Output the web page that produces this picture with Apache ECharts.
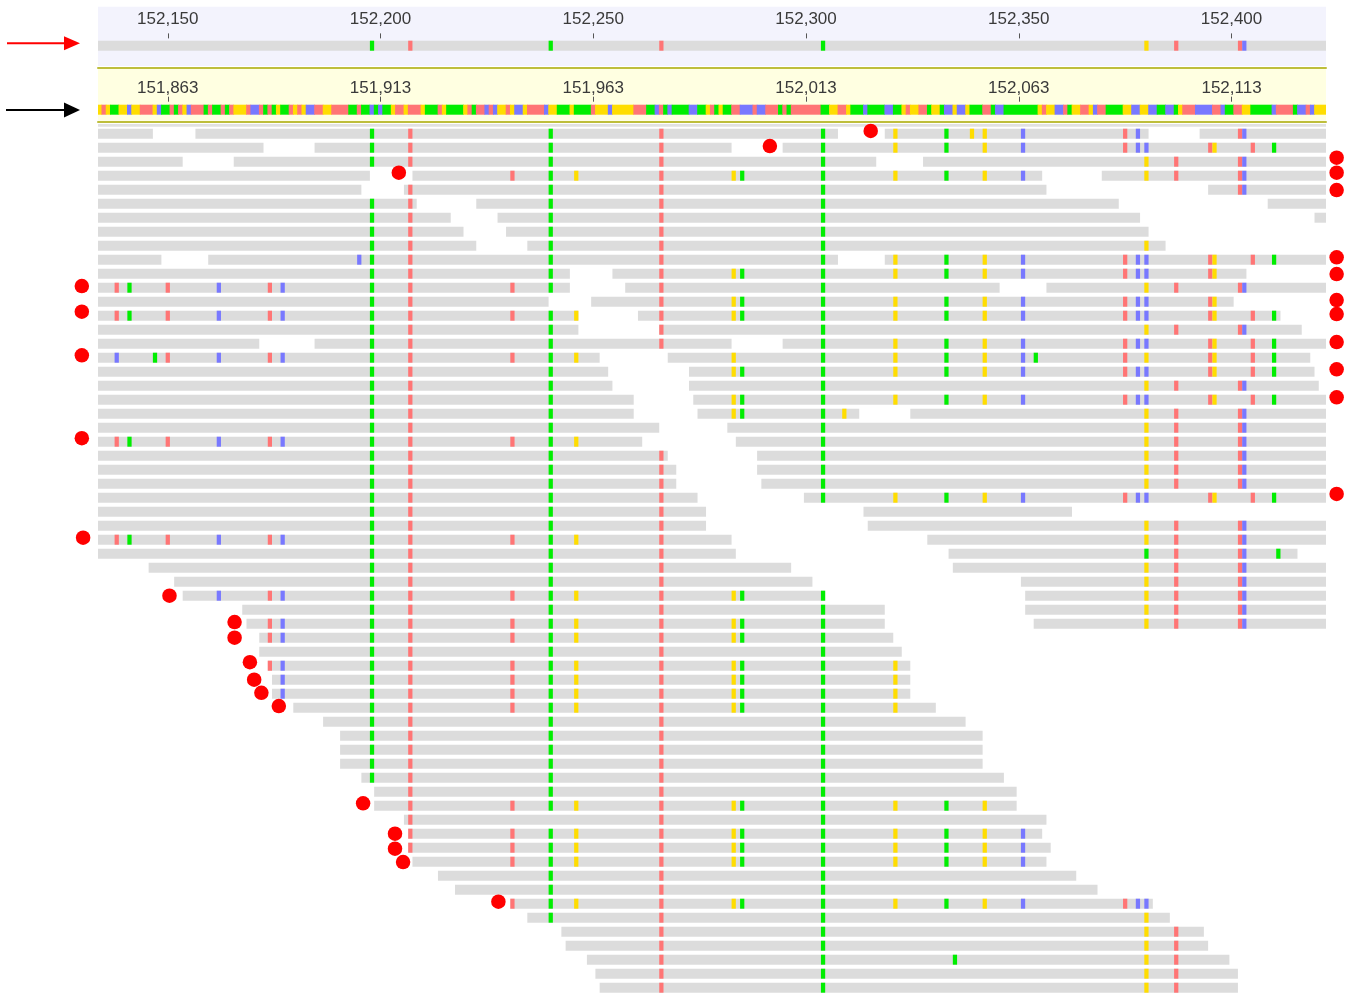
<!DOCTYPE html>
<html><head><meta charset="utf-8">
<script src="https://cdn.jsdelivr.net/npm/echarts@6/dist/echarts.min.js"></script>
<style>html,body{margin:0;padding:0;background:#fff}#c{width:1351px;height:998px}</style>
</head><body><div id="c"></div>
<script>
// ---------------- DATA ----------------
const tickValues = [152150, 152200, 152250, 152300, 152350, 152400];
const lowerAxisShift = 287; // lower ruler labels = upper value - 287

// variant sites: key -> position / base
const siteKeys = 'abcdefghijklmnopqrstuvwxyzABCDEFGHIJKLM';
const sitePos = [152138,152141,152147,152150,152162,152174,152177,152195,152198,152207,
  152231,152240,152246,152266,152283,152285,152304,152309,152321,152333,
  152335,152339,152342,152351,152354,152375,152378,152380,152380,152380,
  152387,152395,152396,152402,152403,152405,152410,152411,152138];
const siteBase = ['T','A','A','T','C','T','C','C','A','T',
  'T','A','G','T','G','A','A','G','G','A',
  'A','G','G','C','A','T','C','C','G','A',
  'T','T','G','T','C','T','A','A','C'];

// reference track (red arrow)
const refTrack = [152134, 152422];
const refVariants = 'ijlnqCEHI';

// colored sequence track (black arrow), one letter per base from 152134
const seqStart = 152134;
const seqBases =
  'GTGAAGGCGGTTTGCAATATGCTTTATAATATGGGTCCTATAGAATGTGCCTTGGTTTTAATAACACAAGTTGTTTGAAATGA' +
  'AAAGTATTCTCGGTGCCGTTTTCGGAAAGAAAATGGGCGGGGGTTTAACTACAAAACCAAGTAGAATTCCCTCCTTTATATTTTTTTAAGGTTGAAACAAAACCAA' +
  'GTGGTTAGGACCGCCGAAATTACCAAAAAAAAGTGGCCTAGGTTGCTTAAAAGGCCGGCCAACCAGTTTCCCCTTCAATTGGAAAAACTTTTACCTCGGG';

// reads: [row, firstBase, lastBase]
const reads = [
 [0,152134,152146],[0,152157,152307],[0,152319,152380],[0,152393,152422],
 [1,152134,152172],[1,152185,152282],[1,152295,152422],
 [2,152134,152153],[2,152166,152316],[2,152328,152422],
 [3,152134,152197],[3,152208,152355],[3,152370,152422],
 [4,152134,152195],[4,152206,152356],[4,152395,152422],
 [5,152134,152208],[5,152223,152373],[5,152409,152422],
 [6,152134,152216],[6,152228,152378],[6,152420,152422],
 [7,152134,152219],[7,152230,152380],
 [8,152134,152222],[8,152235,152384],
 [9,152134,152148],[9,152160,152307],[9,152319,152422],
 [10,152134,152244],[10,152255,152403],
 [11,152134,152244],[11,152258,152345],[11,152357,152422],
 [12,152134,152239],[12,152250,152400],
 [13,152134,152246],[13,152261,152411],
 [14,152134,152246],[14,152266,152416],
 [15,152134,152171],[15,152185,152282],[15,152295,152422],
 [16,152134,152251],[16,152268,152418],
 [17,152134,152253],[17,152273,152419],
 [18,152134,152254],[18,152273,152420],
 [19,152134,152259],[19,152274,152422],
 [20,152134,152259],[20,152275,152312],[20,152325,152422],
 [21,152134,152265],[21,152282,152422],
 [22,152134,152261],[22,152284,152422],
 [23,152134,152267],[23,152289,152422],
 [24,152134,152269],[24,152289,152422],
 [25,152134,152269],[25,152290,152422],
 [26,152134,152274],[26,152300,152422],
 [27,152134,152276],[27,152314,152362],
 [28,152134,152276],[28,152315,152422],
 [29,152134,152282],[29,152329,152422],
 [30,152134,152283],[30,152334,152415],
 [31,152146,152296],[31,152335,152422],
 [32,152152,152301],[32,152351,152422],
 [33,152154,152304],[33,152352,152422],
 [34,152168,152318],[34,152352,152422],
 [35,152169,152318],[35,152354,152422],
 [36,152172,152320],[37,152172,152322],[38,152174,152324],[39,152175,152324],
 [40,152175,152324],[41,152180,152330],[42,152187,152337],[43,152191,152341],
 [44,152191,152341],[45,152191,152341],[46,152196,152346],[47,152199,152349],
 [48,152199,152349],[49,152206,152356],[50,152207,152355],[51,152207,152357],
 [52,152208,152356],[53,152214,152363],[54,152218,152368],[55,152231,152381],
 [56,152235,152385],[57,152243,152393],[58,152244,152394],[59,152249,152399],
 [60,152251,152401],[61,152252,152401]
];

// variant keys shown on each read row
const rowVariants = [
 'ijlnqstvwxzAHI','ijlnqstwxzABFGJK','ijlnqCEHI','klmnopqstwxCEHI','jlnqHI',
 'ijlnq','ijlnq','ijlnq','ijlnqC','hijlnqstwxzABFGJK',
 'ijlnopqstwxzABFG','abdefgijklnqCEHI','ijnopqstwxzABFG','abdefgijklmnopqstwxzABFGJK','ijlnqCEHI',
 'ijlnqstwxzABFGJK','McdefgijklmoqstwxyzCFGJK','ijlopqstwxzABFGJK','ijlqCEHI','ijlopqstwxzABFGJK',
 'ijlopqrCEHI','ijlqCEHI','abdefgijklmqCEHI','ijlnqCEHI','ijlnqCEHI',
 'ijlnqCEHI','ijlnqstwxzABFGJK','ijln','ijlnCEHI','abdefgijklmnCEHI',
 'ijlnDEHIL','ijlnCEHI','ijlnCEHI','efgijklmnopqCEHI','ijlnqCEHI',
 'fgijklmnopqCEHI','fgijklmnopq','ijlnq','fgijklmnopqs','gijklmnopqs',
 'gijklmnopqs','ijklmnopqs','ijlnq','ijlnq','ijlnq',
 'ijlnq','ijlnq','jlnq','jklmnopqstw','jnq',
 'jklmnopqstwx','jklmnopqstwx','klmnopqstwx','lnq','lnq',
 'klmnopqstwxzAB','lnqC','nqCE','nqCE','nquCE',
 'nqCE','nqCE'
];

// red end markers: [position, row]
const endDots = [
 [152315.2,0.16],[152291.5,1.24],[152204.3,3.14],
 [152424.7,2.07],[152424.7,3.14],[152424.7,4.38],[152424.7,9.19],[152424.7,10.38],
 [152424.7,12.24],[152424.7,13.24],[152424.7,15.24],[152424.7,17.19],[152424.7,19.19],[152424.7,26.09],
 [152129.8,11.24],[152129.8,13.07],[152129.8,16.19],[152129.8,22.11],[152130.1,29.21],
 [152150.4,33.36],[152165.7,35.24],[152165.7,36.36],[152169.3,38.11],[152170.3,39.36],
 [152172.0,40.29],[152176.1,41.24],[152195.9,48.19],[152203.4,50.36],[152203.4,51.43],
 [152205.3,52.38],[152227.7,55.21]
];

// ---------------- BUILD ----------------
const XMIN = 152133.6, XMAX = 152422.2, NROWS = 62, BAR = 10/14;
const baseOrder = 'ACGT';
const baseColor = ['#00ee00', '#7878ff', '#ffdd00', '#ff7575'];
const READ_GRAY = '#dcdcdc';

const readMarks = [];
rowVariants.forEach((s, row) => {
  for (const ch of s) {
    const k = siteKeys.indexOf(ch);
    readMarks.push([sitePos[k], row, baseOrder.indexOf(siteBase[k])]);
  }
});
const refMarks = [];
for (const ch of refVariants) {
  const k = siteKeys.indexOf(ch);
  refMarks.push([sitePos[k], 0, baseOrder.indexOf(siteBase[k])]);
}
// sequence track as runs of identical bases: [firstBase, lastBase, baseIndex]
const seqRuns = [];
for (let i = 0; i < seqBases.length; i++) {
  const b = baseOrder.indexOf(seqBases[i]);
  const last = seqRuns[seqRuns.length - 1];
  if (last && last[2] === b && last[1] === seqStart + i - 1) last[1] = seqStart + i;
  else seqRuns.push([seqStart + i, seqStart + i, b]);
}

function rectOf(params, api, x0, x1, y0, y1, pad) {
  const a = api.coord([x0, y0]), b = api.coord([x1, y1]);
  const cs = params.coordSys;
  const p = pad || 0;
  return echarts.graphic.clipRectByRect(
    {x: Math.min(a[0], b[0]) - p, y: Math.min(a[1], b[1]),
     width: Math.abs(b[0] - a[0]) + 2 * p, height: Math.abs(b[1] - a[1])},
    {x: cs.x, y: cs.y, width: cs.width, height: cs.height});
}
function segRender(h) {
  return function (params, api) {
    const shape = rectOf(params, api, api.value(1) - 0.5, api.value(2) + 0.5, api.value(0), api.value(0) + h);
    return shape && {type: 'rect', shape, style: {fill: READ_GRAY}};
  };
}
function markRender(h) {
  return function (params, api) {
    const p = api.value(0), r = api.value(1);
    const shape = rectOf(params, api, p - 0.5, p + 0.5, r, r + h);
    return shape && {type: 'rect', shape, style: {fill: baseColor[api.value(2)]}};
  };
}
function runRender(params, api) {
  const shape = rectOf(params, api, api.value(0) - 0.5, api.value(1) + 0.5, 0, 1, 0.35);
  return shape && {type: 'rect', shape, style: {fill: baseColor[api.value(2)]}};
}

const labelStyle = {color: '#3a3a3a', fontSize: 17, fontFamily: 'Liberation Sans, Arial, sans-serif'};
const fmt = v => Math.round(v).toLocaleString('en-US');
const hiddenX = gi => ({type: 'value', gridIndex: gi, min: XMIN, max: XMAX, show: false});
const OLIVE = '#bebe3c';

const option = {
  animation: false,
  backgroundColor: '#ffffff',
  grid: [
    {left: 98, top: 6.7, width: 1228, height: 59.3, show: true, backgroundColor: '#f3f3fd', borderWidth: 0},
    {left: 98, top: 40.7, width: 1228, height: 10},
    {left: 98, top: 68.7, width: 1228, height: 52, show: true, backgroundColor: '#ffffe1', borderWidth: 0},
    {left: 98, top: 104.7, width: 1228, height: 10},
    {left: 98, top: 128.7, width: 1228, height: NROWS * 14}
  ],
  xAxis: [
    {type: 'value', gridIndex: 0, min: XMIN, max: XMAX, position: 'top', offset: -27.6,
     axisLine: {show: false}, splitLine: {show: false},
     axisTick: {show: true, length: 5, lineStyle: {color: '#555', width: 1}, customValues: tickValues},
     axisLabel: Object.assign({show: true, margin: 6, customValues: tickValues, formatter: fmt}, labelStyle)},
    hiddenX(1),
    {type: 'value', gridIndex: 2, min: XMIN, max: XMAX, position: 'top', offset: -33,
     axisLine: {show: false}, splitLine: {show: false},
     axisTick: {show: true, length: 5, lineStyle: {color: '#555', width: 1}, customValues: tickValues},
     axisLabel: Object.assign({show: true, margin: 5, customValues: tickValues,
       formatter: v => fmt(v - lowerAxisShift)}, labelStyle)},
    {type: 'value', gridIndex: 2, min: XMIN, max: XMAX, position: 'top', offset: 1,
     axisLine: {show: true, lineStyle: {color: OLIVE, width: 2}}, axisTick: {show: false},
     axisLabel: {show: false}, splitLine: {show: false}},
    {type: 'value', gridIndex: 2, min: XMIN, max: XMAX, position: 'bottom', offset: 1,
     axisLine: {show: true, lineStyle: {color: OLIVE, width: 2}}, axisTick: {show: false},
     axisLabel: {show: false}, splitLine: {show: false}},
    hiddenX(3),
    hiddenX(4)
  ],
  yAxis: [
    {type: 'value', gridIndex: 0, min: 0, max: 1, show: false},
    {type: 'value', gridIndex: 1, min: 0, max: 1, inverse: true, show: false},
    {type: 'value', gridIndex: 2, min: 0, max: 1, show: false},
    {type: 'value', gridIndex: 3, min: 0, max: 1, inverse: true, show: false},
    {type: 'value', gridIndex: 4, min: 0, max: NROWS, inverse: true, show: false}
  ],
  series: [
    {type: 'custom', xAxisIndex: 1, yAxisIndex: 1, silent: true, z: 2,
     data: [[0, refTrack[0], refTrack[1]]], renderItem: segRender(1)},
    {type: 'custom', xAxisIndex: 1, yAxisIndex: 1, silent: true, z: 3,
     data: refMarks, renderItem: markRender(1)},
    {type: 'custom', xAxisIndex: 5, yAxisIndex: 3, silent: true, z: 3,
     data: seqRuns, renderItem: runRender},
    {type: 'custom', xAxisIndex: 6, yAxisIndex: 4, silent: true, z: 2,
     data: reads, renderItem: segRender(BAR)},
    {type: 'custom', xAxisIndex: 6, yAxisIndex: 4, silent: true, z: 3,
     data: readMarks, renderItem: markRender(BAR)},
    {type: 'scatter', xAxisIndex: 6, yAxisIndex: 4, silent: true, z: 5, clip: false,
     symbol: 'circle', symbolSize: 14.5, itemStyle: {color: '#ff0000', opacity: 1}, data: endDots}
  ],
  graphic: [
    {type: 'rect', shape: {x: 98, y: 124, width: 1228, height: 2.7}, style: {fill: '#e2e2e2'}, silent: true},
    {type: 'line', shape: {x1: 7, y1: 43.3, x2: 66, y2: 43.3}, style: {stroke: '#ff0000', lineWidth: 2}, silent: true},
    {type: 'polygon', shape: {points: [[64, 36.3], [80, 43.3], [64, 50.3]]}, style: {fill: '#ff0000'}, silent: true},
    {type: 'line', shape: {x1: 6, y1: 110, x2: 66, y2: 110}, style: {stroke: '#000000', lineWidth: 2}, silent: true},
    {type: 'polygon', shape: {points: [[64, 102.5], [80, 110], [64, 117.5]]}, style: {fill: '#000000'}, silent: true}
  ]
};

const chart = echarts.init(document.getElementById('c'), null, {renderer: 'canvas'});
chart.setOption(option);
</script></body></html>
